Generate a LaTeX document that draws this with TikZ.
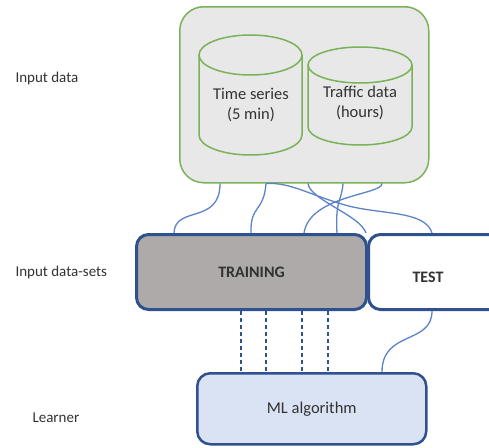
\documentclass[tikz,border=0pt]{standalone}
\usepackage{fontspec}
\setmainfont{Carlito}
\definecolor{gline}{RGB}{122,178,88}
\definecolor{gfill}{RGB}{232,232,232}
\definecolor{bline}{RGB}{92,130,200}
\definecolor{dblue}{RGB}{47,82,143}
\definecolor{trfill}{RGB}{174,170,170}
\definecolor{mlfill}{RGB}{218,227,243}
\definecolor{txtc}{RGB}{50,50,50}
\begin{document}
\begin{tikzpicture}[x=1pt,y=-1pt,
  every node/.style={text=txtc, font=\fontsize{15}{20}\selectfont},
  gbox/.style={draw=gline, fill=gfill, line width=1.5pt, rounded corners=24pt, anchor=north west},
  cyl/.style={draw=gline, line width=1.5pt},
  setbox/.style={draw=dblue, line width=3pt, rounded corners=12pt, anchor=north west},
  mlbox/.style={draw=dblue, fill=mlfill, line width=2.5pt, rounded corners=13pt, anchor=north west},
  link/.style={draw=bline, line width=1.3pt},
  dline/.style={draw=dblue, line width=1.1pt, dash pattern=on 4pt off 3pt},
  lbl/.style={anchor=west},
  big/.style={font=\fontsize{16.5}{20}\selectfont},
  bold/.style={font=\fontsize{16}{20}\selectfont\bfseries}
]
\useasboundingbox (0,0) rectangle (489,447);
\clip (0,0) rectangle (489,447);

% input data box
\node[gbox, minimum width=249pt, minimum height=176pt] (src) at (179,6) {};
% cylinder 1
\draw[cyl] (250.5,55) ellipse [x radius=51.5, y radius=20];
\draw[cyl] (199,55) -- (199,135) arc[start angle=180, end angle=0, x radius=51.5, y radius=20] -- (302,55);
% cylinder 2
\draw[cyl] (360,65) ellipse [x radius=52, y radius=18];
\draw[cyl] (308,65) -- (308,127) arc[start angle=180, end angle=0, x radius=52, y radius=18] -- (412,65);
\node[align=center, big] (ts) at (251,105) {Time series\\(5 min)};
\node[align=center, big] (td) at (360,103) {Traffic data\\(hours)};

% data sets
\node[setbox, fill=trfill, minimum width=230pt, minimum height=75pt, bold] (train) at (135,233) {TRAINING};
\node[setbox, fill=white, minimum width=140pt, minimum height=75pt] (test) at (367,233) {};
\node[bold] (testlbl) at (428,277) {TEST};

% learner
\node[mlbox, minimum width=229pt, minimum height=71pt, big] (ml) at (196,372) {ML algorithm};

% connectors
\draw[link] (220,0 |- src.south) .. controls (220,225) and (175,205) .. (174,0 |- train.north);
\draw[link] (266,0 |- src.south) .. controls (264,212) and (250,205) .. (251,0 |- train.north);
\draw[link] (266,0 |- src.south) .. controls (290,182) and (310,195) .. (345,205) .. controls (380,215) and (425,210) .. (432,0 |- test.north);
\draw[link] (308,0 |- src.south) .. controls (310,200) and (360,215) .. (366,0 |- train.north);
\draw[link] (343,0 |- src.south) .. controls (342,200) and (335,200) .. (337,0 |- train.north);
\draw[link] (382,0 |- src.south) .. controls (382,195) and (310,195) .. (304,0 |- train.north);
\draw[link] (432,0 |- test.south) .. controls (432,345) and (382,330) .. (382,0 |- ml.north);

\draw[dline] (241,0 |- train.south) -- (241,0 |- ml.north);
\draw[dline] (266,0 |- train.south) -- (266,0 |- ml.north);
\draw[dline] (302,0 |- train.south) -- (302,0 |- ml.north);
\draw[dline] (328,0 |- train.south) -- (328,0 |- ml.north);

% row labels
\node[lbl] (l1) at (12,78) {Input data};
\node[lbl] (l2) at (12,272) {Input data-sets};
\node[lbl] (l3) at (29,418) {Learner};
\end{tikzpicture}
\end{document}
